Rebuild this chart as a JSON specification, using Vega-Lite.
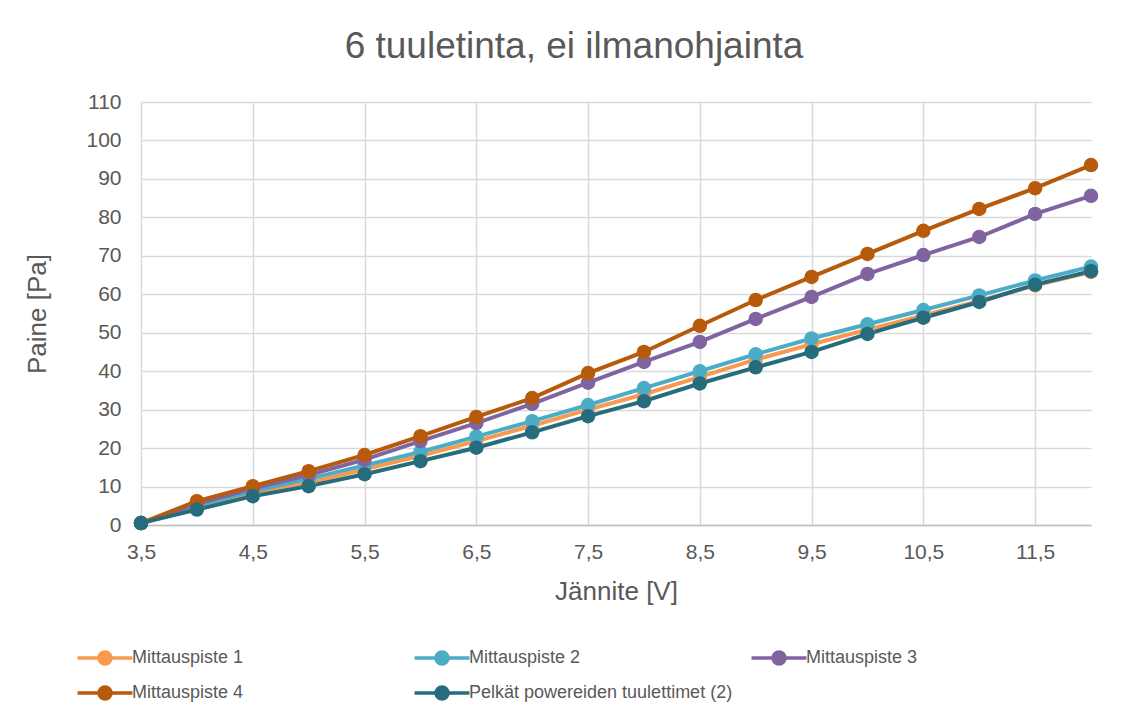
{
  "$schema": "https://vega.github.io/schema/vega-lite/v6.json",
  "autosize": "none",
  "width": 950,
  "height": 423,
  "padding": {"left": 141, "top": 102, "right": 50, "bottom": 195},
  "background": "white",
  "title": {"text": "6 tuuletinta, ei ilmanohjainta", "fontSize": 37, "font": "Liberation Sans", "fontWeight": "normal", "color": "#595959", "anchor": "middle", "dx": -42, "offset": 25},
  "data": {"values": [
    {"V": 3.5, "P": 0.5, "S": "Mittauspiste 1"}, {"V": 4, "P": 4.5, "S": "Mittauspiste 1"}, {"V": 4.5, "P": 8.0, "S": "Mittauspiste 1"}, {"V": 5, "P": 11.0, "S": "Mittauspiste 1"}, {"V": 5.5, "P": 14.5, "S": "Mittauspiste 1"}, {"V": 6, "P": 18.0, "S": "Mittauspiste 1"}, {"V": 6.5, "P": 21.8, "S": "Mittauspiste 1"}, {"V": 7, "P": 25.8, "S": "Mittauspiste 1"}, {"V": 7.5, "P": 30.0, "S": "Mittauspiste 1"}, {"V": 8, "P": 34.0, "S": "Mittauspiste 1"}, {"V": 8.5, "P": 38.5, "S": "Mittauspiste 1"}, {"V": 9, "P": 43.0, "S": "Mittauspiste 1"}, {"V": 9.5, "P": 47.0, "S": "Mittauspiste 1"}, {"V": 10, "P": 50.8, "S": "Mittauspiste 1"}, {"V": 10.5, "P": 54.5, "S": "Mittauspiste 1"}, {"V": 11, "P": 58.3, "S": "Mittauspiste 1"}, {"V": 11.5, "P": 62.3, "S": "Mittauspiste 1"}, {"V": 12, "P": 65.8, "S": "Mittauspiste 1"},
    {"V": 3.5, "P": 0.5, "S": "Mittauspiste 2"}, {"V": 4, "P": 5.0, "S": "Mittauspiste 2"}, {"V": 4.5, "P": 8.8, "S": "Mittauspiste 2"}, {"V": 5, "P": 12.0, "S": "Mittauspiste 2"}, {"V": 5.5, "P": 15.5, "S": "Mittauspiste 2"}, {"V": 6, "P": 19.0, "S": "Mittauspiste 2"}, {"V": 6.5, "P": 23.0, "S": "Mittauspiste 2"}, {"V": 7, "P": 27.0, "S": "Mittauspiste 2"}, {"V": 7.5, "P": 31.2, "S": "Mittauspiste 2"}, {"V": 8, "P": 35.6, "S": "Mittauspiste 2"}, {"V": 8.5, "P": 40.0, "S": "Mittauspiste 2"}, {"V": 9, "P": 44.4, "S": "Mittauspiste 2"}, {"V": 9.5, "P": 48.5, "S": "Mittauspiste 2"}, {"V": 10, "P": 52.2, "S": "Mittauspiste 2"}, {"V": 10.5, "P": 55.9, "S": "Mittauspiste 2"}, {"V": 11, "P": 59.7, "S": "Mittauspiste 2"}, {"V": 11.5, "P": 63.6, "S": "Mittauspiste 2"}, {"V": 12, "P": 67.2, "S": "Mittauspiste 2"},
    {"V": 3.5, "P": 0.5, "S": "Mittauspiste 3"}, {"V": 4, "P": 5.5, "S": "Mittauspiste 3"}, {"V": 4.5, "P": 9.5, "S": "Mittauspiste 3"}, {"V": 5, "P": 13.0, "S": "Mittauspiste 3"}, {"V": 5.5, "P": 17.0, "S": "Mittauspiste 3"}, {"V": 6, "P": 21.8, "S": "Mittauspiste 3"}, {"V": 6.5, "P": 26.5, "S": "Mittauspiste 3"}, {"V": 7, "P": 31.5, "S": "Mittauspiste 3"}, {"V": 7.5, "P": 37.0, "S": "Mittauspiste 3"}, {"V": 8, "P": 42.4, "S": "Mittauspiste 3"}, {"V": 8.5, "P": 47.6, "S": "Mittauspiste 3"}, {"V": 9, "P": 53.6, "S": "Mittauspiste 3"}, {"V": 9.5, "P": 59.3, "S": "Mittauspiste 3"}, {"V": 10, "P": 65.3, "S": "Mittauspiste 3"}, {"V": 10.5, "P": 70.2, "S": "Mittauspiste 3"}, {"V": 11, "P": 74.9, "S": "Mittauspiste 3"}, {"V": 11.5, "P": 80.9, "S": "Mittauspiste 3"}, {"V": 12, "P": 85.6, "S": "Mittauspiste 3"},
    {"V": 3.5, "P": 0.5, "S": "Mittauspiste 4"}, {"V": 4, "P": 6.2, "S": "Mittauspiste 4"}, {"V": 4.5, "P": 10.1, "S": "Mittauspiste 4"}, {"V": 5, "P": 14.0, "S": "Mittauspiste 4"}, {"V": 5.5, "P": 18.2, "S": "Mittauspiste 4"}, {"V": 6, "P": 23.1, "S": "Mittauspiste 4"}, {"V": 6.5, "P": 28.1, "S": "Mittauspiste 4"}, {"V": 7, "P": 33.0, "S": "Mittauspiste 4"}, {"V": 7.5, "P": 39.5, "S": "Mittauspiste 4"}, {"V": 8, "P": 45.0, "S": "Mittauspiste 4"}, {"V": 8.5, "P": 51.8, "S": "Mittauspiste 4"}, {"V": 9, "P": 58.5, "S": "Mittauspiste 4"}, {"V": 9.5, "P": 64.5, "S": "Mittauspiste 4"}, {"V": 10, "P": 70.5, "S": "Mittauspiste 4"}, {"V": 10.5, "P": 76.5, "S": "Mittauspiste 4"}, {"V": 11, "P": 82.2, "S": "Mittauspiste 4"}, {"V": 11.5, "P": 87.6, "S": "Mittauspiste 4"}, {"V": 12, "P": 93.6, "S": "Mittauspiste 4"},
    {"V": 3.5, "P": 0.5, "S": "Pelkät powereiden tuulettimet (2)"}, {"V": 4, "P": 4.0, "S": "Pelkät powereiden tuulettimet (2)"}, {"V": 4.5, "P": 7.5, "S": "Pelkät powereiden tuulettimet (2)"}, {"V": 5, "P": 10.1, "S": "Pelkät powereiden tuulettimet (2)"}, {"V": 5.5, "P": 13.2, "S": "Pelkät powereiden tuulettimet (2)"}, {"V": 6, "P": 16.6, "S": "Pelkät powereiden tuulettimet (2)"}, {"V": 6.5, "P": 20.1, "S": "Pelkät powereiden tuulettimet (2)"}, {"V": 7, "P": 24.1, "S": "Pelkät powereiden tuulettimet (2)"}, {"V": 7.5, "P": 28.3, "S": "Pelkät powereiden tuulettimet (2)"}, {"V": 8, "P": 32.2, "S": "Pelkät powereiden tuulettimet (2)"}, {"V": 8.5, "P": 36.8, "S": "Pelkät powereiden tuulettimet (2)"}, {"V": 9, "P": 41.0, "S": "Pelkät powereiden tuulettimet (2)"}, {"V": 9.5, "P": 45.0, "S": "Pelkät powereiden tuulettimet (2)"}, {"V": 10, "P": 49.7, "S": "Pelkät powereiden tuulettimet (2)"}, {"V": 10.5, "P": 53.9, "S": "Pelkät powereiden tuulettimet (2)"}, {"V": 11, "P": 58.0, "S": "Pelkät powereiden tuulettimet (2)"}, {"V": 11.5, "P": 62.5, "S": "Pelkät powereiden tuulettimet (2)"}, {"V": 12, "P": 66.0, "S": "Pelkät powereiden tuulettimet (2)"}
  ]},
  "mark": {"type": "line", "strokeWidth": 4, "point": {"filled": true, "size": 210, "opacity": 1}},
  "encoding": {
    "x": {"field": "V", "type": "quantitative",
      "scale": {"domain": [3.5, 12], "nice": false, "zero": false},
      "axis": {"title": "Jännite [V]", "values": [3.5, 4.5, 5.5, 6.5, 7.5, 8.5, 9.5, 10.5, 11.5],
        "labelExpr": "replace(format(datum.value, '.1f'), '.', ',')", "labelFlush": false,
        "domainColor": "#bfbfbf", "domainWidth": 1.5, "ticks": false, "labelPadding": 16,
        "gridColor": "#d9d9d9", "gridWidth": 1.5, "labelFontSize": 21, "labelColor": "#595959", "labelFont": "Liberation Sans",
        "titleFontSize": 26, "titleColor": "#595959", "titleFont": "Liberation Sans", "titleFontWeight": "normal", "titlePadding": 16}},
    "y": {"field": "P", "type": "quantitative",
      "scale": {"domain": [0, 110], "nice": false},
      "axis": {"title": "Paine [Pa]", "values": [0, 10, 20, 30, 40, 50, 60, 70, 80, 90, 100, 110],
        "domain": false, "ticks": false, "labelPadding": 20,
        "gridColor": "#d9d9d9", "gridWidth": 1.5, "labelFontSize": 21, "labelColor": "#595959", "labelFont": "Liberation Sans",
        "titleFontSize": 26, "titleColor": "#595959", "titleFont": "Liberation Sans", "titleFontWeight": "normal", "titlePadding": 35}},
    "color": {"field": "S", "type": "nominal",
      "scale": {"domain": ["Mittauspiste 1", "Mittauspiste 2", "Mittauspiste 3", "Mittauspiste 4", "Pelkät powereiden tuulettimet (2)"],
        "range": ["#F79A4E", "#4BACC6", "#8064A2", "#B85A0C", "#276C7D"]},
      "legend": {"title": null, "orient": "none", "direction": "horizontal", "legendX": -53, "legendY": 539, "columns": 3, "gridAlign": "all",
        "columnPadding": 11, "rowPadding": 5, "labelFontSize": 18, "labelColor": "#595959", "labelFont": "Liberation Sans", "labelLimit": 400, "labelOffset": 10,
        "symbolType": "M-1.83,0L1.83,0M-0.4,0a0.4,0.4 0 1,0 0.8,0a0.4,0.4 0 1,0 -0.8,0M-0.22,0a0.22,0.22 0 1,0 0.44,0a0.22,0.22 0 1,0 -0.44,0M-0.06,0a0.06,0.06 0 1,0 0.12,0a0.06,0.06 0 1,0 -0.12,0",
        "symbolSize": 900, "symbolStrokeWidth": 3.5}}
  },
  "config": {"view": {"stroke": null}}
}
